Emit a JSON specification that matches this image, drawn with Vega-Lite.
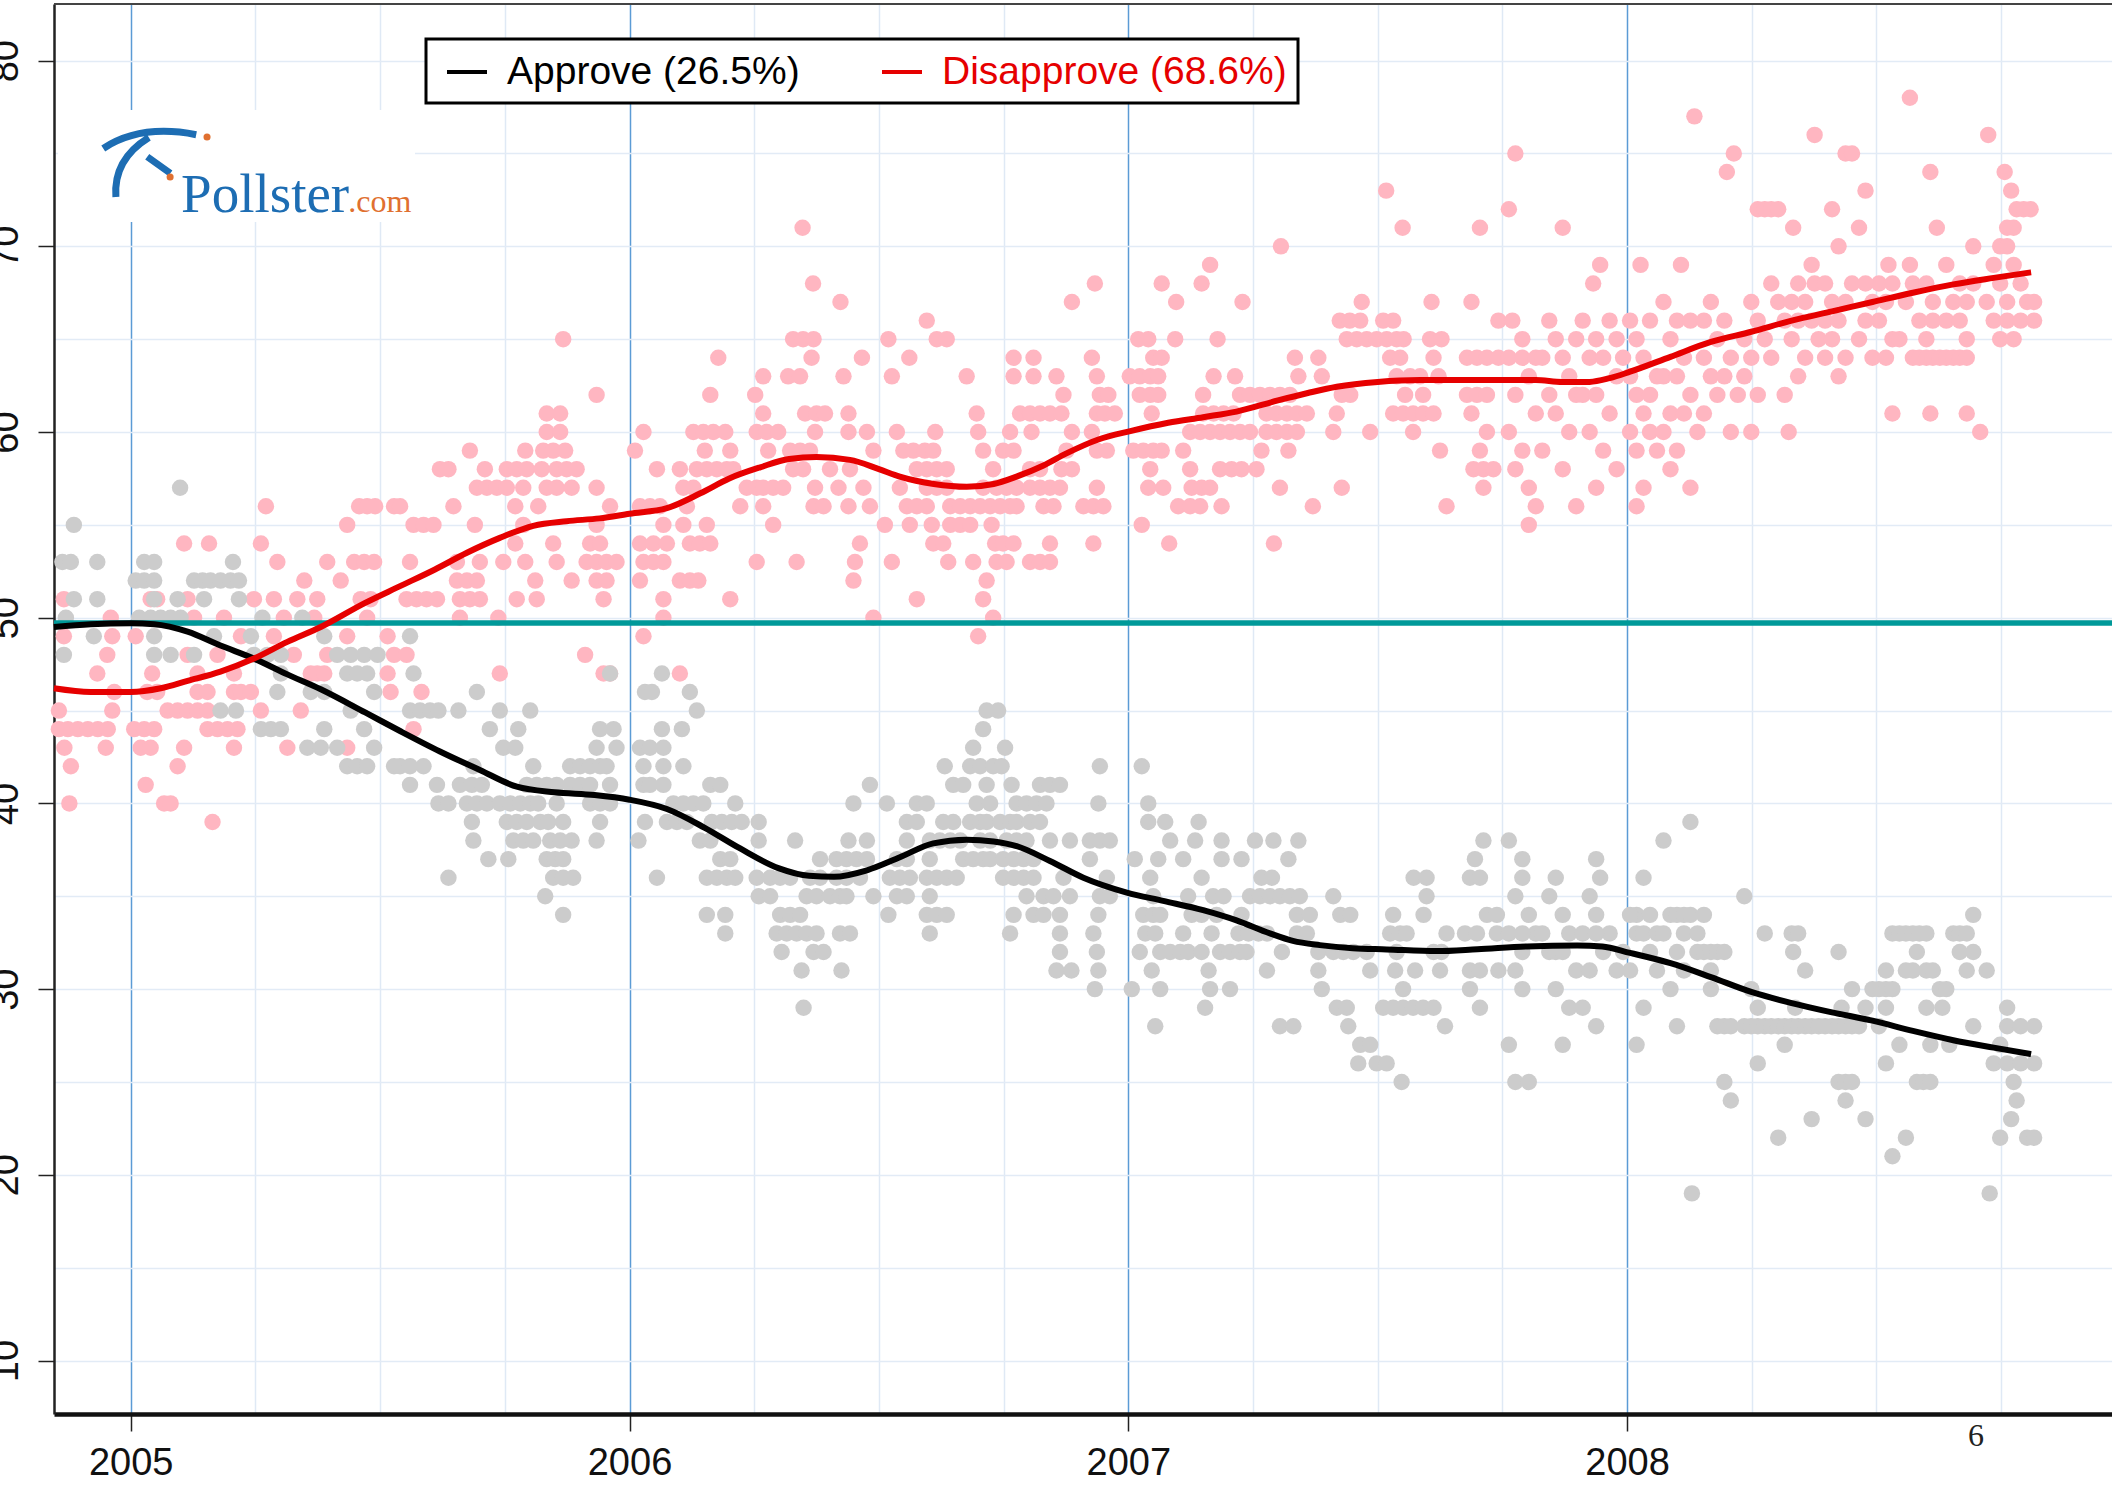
{
"$schema": "https://vega.github.io/schema/vega-lite/v6.json",
"width": 2058,
"height": 1410,
"autosize": {"type": "none"},
"padding": {"left": 54, "top": 4, "right": 0, "bottom": 72},
"background": "white",
"config": {"view": {"stroke": null}, "font": "Liberation Sans"},
"datasets": {
"dis": [
{"t":2005.271,"v":56},{"t":2005.458,"v":56},{"t":2005.474,"v":56},{"t":2005.49,"v":56},{"t":2005.528,"v":56},
{"t":2005.434,"v":55},
{"t":2005.107,"v":54},{"t":2005.157,"v":54},{"t":2005.261,"v":54},
{"t":2005.294,"v":53},{"t":2005.394,"v":53},{"t":2005.448,"v":53},{"t":2005.468,"v":53},{"t":2005.488,"v":53},
{"t":2005.348,"v":52},{"t":2005.421,"v":52},
{"t":2004.866,"v":51},{"t":2005.04,"v":51},{"t":2005.053,"v":51},{"t":2005.114,"v":51},{"t":2005.247,"v":51},{"t":2005.287,"v":51},{"t":2005.334,"v":51},{"t":2005.374,"v":51},{"t":2005.461,"v":51},{"t":2005.481,"v":51},
{"t":2004.96,"v":50},{"t":2005.127,"v":50},{"t":2005.187,"v":50},{"t":2005.307,"v":50},{"t":2005.368,"v":50},{"t":2005.474,"v":50},
{"t":2004.866,"v":49},{"t":2004.963,"v":49},{"t":2005.01,"v":49},{"t":2005.221,"v":49},{"t":2005.287,"v":49},{"t":2005.434,"v":49},{"t":2005.515,"v":49},
{"t":2004.953,"v":48},{"t":2005.114,"v":48},{"t":2005.174,"v":48},{"t":2005.327,"v":48},{"t":2005.394,"v":48},{"t":2005.528,"v":48},
{"t":2004.933,"v":47},{"t":2005.043,"v":47},{"t":2005.134,"v":47},{"t":2005.207,"v":47},{"t":2005.361,"v":47},{"t":2005.374,"v":47},{"t":2005.388,"v":47},{"t":2005.515,"v":47},
{"t":2004.967,"v":46},{"t":2005.033,"v":46},{"t":2005.053,"v":46},{"t":2005.134,"v":46},{"t":2005.154,"v":46},{"t":2005.207,"v":46},{"t":2005.221,"v":46},{"t":2005.241,"v":46},{"t":2005.521,"v":46},
{"t":2004.856,"v":45},{"t":2004.963,"v":45},{"t":2005.074,"v":45},{"t":2005.094,"v":45},{"t":2005.114,"v":45},{"t":2005.134,"v":45},{"t":2005.154,"v":45},{"t":2005.261,"v":45},{"t":2005.341,"v":45},
{"t":2004.856,"v":44},{"t":2004.874,"v":44},{"t":2004.894,"v":44},{"t":2004.914,"v":44},{"t":2004.934,"v":44},{"t":2004.954,"v":44},{"t":2005.007,"v":44},{"t":2005.027,"v":44},{"t":2005.047,"v":44},{"t":2005.154,"v":44},{"t":2005.174,"v":44},{"t":2005.194,"v":44},{"t":2005.214,"v":44},
{"t":2004.867,"v":43},{"t":2004.95,"v":43},{"t":2005.02,"v":43},{"t":2005.04,"v":43},{"t":2005.107,"v":43},{"t":2005.207,"v":43},{"t":2005.314,"v":43},{"t":2005.434,"v":43},
{"t":2004.88,"v":42},{"t":2005.094,"v":42},
{"t":2005.03,"v":41},
{"t":2004.877,"v":40},{"t":2005.067,"v":40},{"t":2005.08,"v":40},
{"t":2005.164,"v":39},
{"t":2005.867,"v":65},
{"t":2006.178,"v":64},
{"t":2005.934,"v":62},{"t":2006.162,"v":62},{"t":2006.252,"v":62},
{"t":2005.834,"v":61},{"t":2005.861,"v":61},
{"t":2005.834,"v":60},{"t":2005.861,"v":60},{"t":2006.028,"v":60},{"t":2006.128,"v":60},{"t":2006.148,"v":60},{"t":2006.168,"v":60},{"t":2006.192,"v":60},
{"t":2005.68,"v":59},{"t":2005.791,"v":59},{"t":2005.827,"v":59},{"t":2005.847,"v":59},{"t":2005.871,"v":59},{"t":2006.011,"v":59},{"t":2006.151,"v":59},{"t":2006.202,"v":59},
{"t":2005.62,"v":58},{"t":2005.637,"v":58},{"t":2005.71,"v":58},{"t":2005.754,"v":58},{"t":2005.774,"v":58},{"t":2005.794,"v":58},{"t":2005.824,"v":58},{"t":2005.854,"v":58},{"t":2005.874,"v":58},{"t":2005.894,"v":58},{"t":2006.055,"v":58},{"t":2006.101,"v":58},{"t":2006.135,"v":58},{"t":2006.155,"v":58},{"t":2006.175,"v":58},{"t":2006.195,"v":58},{"t":2006.208,"v":58},
{"t":2005.694,"v":57},{"t":2005.714,"v":57},{"t":2005.734,"v":57},{"t":2005.754,"v":57},{"t":2005.787,"v":57},{"t":2005.834,"v":57},{"t":2005.854,"v":57},{"t":2005.884,"v":57},{"t":2005.934,"v":57},{"t":2006.108,"v":57},{"t":2006.128,"v":57},{"t":2006.235,"v":57},{"t":2006.255,"v":57},
{"t":2005.54,"v":56},{"t":2005.647,"v":56},{"t":2005.771,"v":56},{"t":2005.817,"v":56},{"t":2005.961,"v":56},{"t":2006.021,"v":56},{"t":2006.041,"v":56},{"t":2006.061,"v":56},{"t":2006.115,"v":56},{"t":2006.222,"v":56},
{"t":2005.567,"v":55},{"t":2005.587,"v":55},{"t":2005.607,"v":55},{"t":2005.69,"v":55},{"t":2005.787,"v":55},{"t":2005.934,"v":55},{"t":2006.068,"v":55},{"t":2006.108,"v":55},{"t":2006.155,"v":55},
{"t":2005.771,"v":54},{"t":2005.847,"v":54},{"t":2005.921,"v":54},{"t":2005.941,"v":54},{"t":2006.021,"v":54},{"t":2006.048,"v":54},{"t":2006.075,"v":54},{"t":2006.121,"v":54},{"t":2006.141,"v":54},{"t":2006.162,"v":54},
{"t":2005.56,"v":53},{"t":2005.654,"v":53},{"t":2005.7,"v":53},{"t":2005.747,"v":53},{"t":2005.791,"v":53},{"t":2005.854,"v":53},{"t":2005.914,"v":53},{"t":2005.934,"v":53},{"t":2005.954,"v":53},{"t":2005.974,"v":53},{"t":2006.028,"v":53},{"t":2006.048,"v":53},{"t":2006.068,"v":53},{"t":2006.255,"v":53},
{"t":2005.654,"v":52},{"t":2005.674,"v":52},{"t":2005.694,"v":52},{"t":2005.811,"v":52},{"t":2005.884,"v":52},{"t":2005.934,"v":52},{"t":2005.954,"v":52},{"t":2006.021,"v":52},{"t":2006.101,"v":52},{"t":2006.121,"v":52},{"t":2006.138,"v":52},
{"t":2005.553,"v":51},{"t":2005.573,"v":51},{"t":2005.593,"v":51},{"t":2005.614,"v":51},{"t":2005.66,"v":51},{"t":2005.68,"v":51},{"t":2005.7,"v":51},{"t":2005.774,"v":51},{"t":2005.814,"v":51},{"t":2005.948,"v":51},{"t":2006.068,"v":51},{"t":2006.202,"v":51},
{"t":2005.66,"v":50},{"t":2005.737,"v":50},{"t":2006.068,"v":50},
{"t":2006.028,"v":49},
{"t":2005.553,"v":48},{"t":2005.911,"v":48},
{"t":2005.74,"v":47},{"t":2005.948,"v":47},{"t":2005.961,"v":47},{"t":2006.101,"v":47},
{"t":2005.583,"v":46},
{"t":2005.567,"v":44},
{"t":2006.347,"v":71},
{"t":2006.368,"v":68},{"t":2006.933,"v":68},
{"t":2006.423,"v":67},{"t":2006.887,"v":67},
{"t":2006.596,"v":66},
{"t":2006.328,"v":65},{"t":2006.348,"v":65},{"t":2006.369,"v":65},{"t":2006.519,"v":65},{"t":2006.616,"v":65},{"t":2006.636,"v":65},
{"t":2006.365,"v":64},{"t":2006.466,"v":64},{"t":2006.561,"v":64},{"t":2006.77,"v":64},{"t":2006.81,"v":64},{"t":2006.927,"v":64},
{"t":2006.268,"v":63},{"t":2006.318,"v":63},{"t":2006.342,"v":63},{"t":2006.429,"v":63},{"t":2006.526,"v":63},{"t":2006.676,"v":63},{"t":2006.77,"v":63},{"t":2006.81,"v":63},{"t":2006.856,"v":63},{"t":2006.937,"v":63},
{"t":2006.87,"v":62},{"t":2006.943,"v":62},{"t":2006.96,"v":62},
{"t":2006.268,"v":61},{"t":2006.352,"v":61},{"t":2006.375,"v":61},{"t":2006.392,"v":61},{"t":2006.439,"v":61},{"t":2006.696,"v":61},{"t":2006.783,"v":61},{"t":2006.803,"v":61},{"t":2006.823,"v":61},{"t":2006.843,"v":61},{"t":2006.866,"v":61},{"t":2006.937,"v":61},{"t":2006.953,"v":61},{"t":2006.973,"v":61},
{"t":2006.255,"v":60},{"t":2006.275,"v":60},{"t":2006.298,"v":60},{"t":2006.372,"v":60},{"t":2006.439,"v":60},{"t":2006.476,"v":60},{"t":2006.536,"v":60},{"t":2006.613,"v":60},{"t":2006.699,"v":60},{"t":2006.763,"v":60},{"t":2006.806,"v":60},{"t":2006.887,"v":60},{"t":2006.927,"v":60},
{"t":2006.278,"v":59},{"t":2006.322,"v":59},{"t":2006.342,"v":59},{"t":2006.362,"v":59},{"t":2006.489,"v":59},{"t":2006.549,"v":59},{"t":2006.569,"v":59},{"t":2006.592,"v":59},{"t":2006.609,"v":59},{"t":2006.709,"v":59},{"t":2006.749,"v":59},{"t":2006.77,"v":59},{"t":2006.876,"v":59},{"t":2006.937,"v":59},{"t":2006.957,"v":59},
{"t":2006.328,"v":58},{"t":2006.348,"v":58},{"t":2006.402,"v":58},{"t":2006.442,"v":58},{"t":2006.576,"v":58},{"t":2006.596,"v":58},{"t":2006.616,"v":58},{"t":2006.636,"v":58},{"t":2006.729,"v":58},{"t":2006.803,"v":58},{"t":2006.823,"v":58},{"t":2006.866,"v":58},{"t":2006.887,"v":58},
{"t":2006.268,"v":57},{"t":2006.288,"v":57},{"t":2006.308,"v":57},{"t":2006.372,"v":57},{"t":2006.419,"v":57},{"t":2006.469,"v":57},{"t":2006.542,"v":57},{"t":2006.596,"v":57},{"t":2006.616,"v":57},{"t":2006.636,"v":57},{"t":2006.709,"v":57},{"t":2006.736,"v":57},{"t":2006.756,"v":57},{"t":2006.776,"v":57},{"t":2006.803,"v":57},{"t":2006.823,"v":57},{"t":2006.843,"v":57},{"t":2006.863,"v":57},{"t":2006.937,"v":57},
{"t":2006.268,"v":56},{"t":2006.369,"v":56},{"t":2006.389,"v":56},{"t":2006.439,"v":56},{"t":2006.482,"v":56},{"t":2006.556,"v":56},{"t":2006.576,"v":56},{"t":2006.596,"v":56},{"t":2006.643,"v":56},{"t":2006.663,"v":56},{"t":2006.683,"v":56},{"t":2006.703,"v":56},{"t":2006.723,"v":56},{"t":2006.743,"v":56},{"t":2006.763,"v":56},{"t":2006.776,"v":56},{"t":2006.83,"v":56},{"t":2006.85,"v":56},{"t":2006.91,"v":56},{"t":2006.93,"v":56},{"t":2006.95,"v":56},
{"t":2006.288,"v":55},{"t":2006.512,"v":55},{"t":2006.562,"v":55},{"t":2006.606,"v":55},{"t":2006.643,"v":55},{"t":2006.663,"v":55},{"t":2006.683,"v":55},{"t":2006.726,"v":55},
{"t":2006.462,"v":54},{"t":2006.609,"v":54},{"t":2006.629,"v":54},{"t":2006.733,"v":54},{"t":2006.749,"v":54},{"t":2006.77,"v":54},{"t":2006.843,"v":54},{"t":2006.93,"v":54},
{"t":2006.335,"v":53},{"t":2006.452,"v":53},{"t":2006.526,"v":53},{"t":2006.639,"v":53},{"t":2006.689,"v":53},{"t":2006.736,"v":53},{"t":2006.756,"v":53},{"t":2006.803,"v":53},{"t":2006.823,"v":53},{"t":2006.843,"v":53},
{"t":2006.449,"v":52},{"t":2006.716,"v":52},
{"t":2006.576,"v":51},{"t":2006.709,"v":51},
{"t":2006.489,"v":50},{"t":2006.729,"v":50},
{"t":2006.699,"v":49},
{"t":2007.517,"v":73},
{"t":2007.55,"v":71},{"t":2007.705,"v":71},
{"t":2007.306,"v":70},
{"t":2007.164,"v":69},
{"t":2007.067,"v":68},{"t":2007.147,"v":68},
{"t":2007.096,"v":67},{"t":2007.229,"v":67},{"t":2007.468,"v":67},{"t":2007.608,"v":67},{"t":2007.688,"v":67},
{"t":2007.424,"v":66},{"t":2007.444,"v":66},{"t":2007.465,"v":66},{"t":2007.511,"v":66},{"t":2007.531,"v":66},{"t":2007.742,"v":66},
{"t":2007.02,"v":65},{"t":2007.04,"v":65},{"t":2007.094,"v":65},{"t":2007.179,"v":65},{"t":2007.438,"v":65},{"t":2007.458,"v":65},{"t":2007.478,"v":65},{"t":2007.498,"v":65},{"t":2007.518,"v":65},{"t":2007.538,"v":65},{"t":2007.552,"v":65},{"t":2007.605,"v":65},{"t":2007.628,"v":65},
{"t":2007.05,"v":64},{"t":2007.067,"v":64},{"t":2007.334,"v":64},{"t":2007.381,"v":64},{"t":2007.525,"v":64},{"t":2007.545,"v":64},{"t":2007.612,"v":64},{"t":2007.679,"v":64},{"t":2007.699,"v":64},{"t":2007.719,"v":64},{"t":2007.742,"v":64},
{"t":2007.003,"v":63},{"t":2007.023,"v":63},{"t":2007.044,"v":63},{"t":2007.06,"v":63},{"t":2007.171,"v":63},{"t":2007.214,"v":63},{"t":2007.341,"v":63},{"t":2007.388,"v":63},{"t":2007.538,"v":63},{"t":2007.565,"v":63},{"t":2007.585,"v":63},{"t":2007.622,"v":63},
{"t":2007.023,"v":62},{"t":2007.044,"v":62},{"t":2007.06,"v":62},{"t":2007.15,"v":62},{"t":2007.224,"v":62},{"t":2007.244,"v":62},{"t":2007.264,"v":62},{"t":2007.284,"v":62},{"t":2007.304,"v":62},{"t":2007.324,"v":62},{"t":2007.428,"v":62},{"t":2007.445,"v":62},{"t":2007.555,"v":62},{"t":2007.591,"v":62},{"t":2007.679,"v":62},{"t":2007.699,"v":62},{"t":2007.719,"v":62},
{"t":2007.047,"v":61},{"t":2007.15,"v":61},{"t":2007.171,"v":61},{"t":2007.191,"v":61},{"t":2007.211,"v":61},{"t":2007.277,"v":61},{"t":2007.297,"v":61},{"t":2007.318,"v":61},{"t":2007.338,"v":61},{"t":2007.358,"v":61},{"t":2007.418,"v":61},{"t":2007.531,"v":61},{"t":2007.551,"v":61},{"t":2007.571,"v":61},{"t":2007.591,"v":61},{"t":2007.612,"v":61},{"t":2007.688,"v":61},
{"t":2007.124,"v":60},{"t":2007.144,"v":60},{"t":2007.164,"v":60},{"t":2007.184,"v":60},{"t":2007.204,"v":60},{"t":2007.224,"v":60},{"t":2007.244,"v":60},{"t":2007.277,"v":60},{"t":2007.297,"v":60},{"t":2007.318,"v":60},{"t":2007.338,"v":60},{"t":2007.411,"v":60},{"t":2007.485,"v":60},{"t":2007.571,"v":60},{"t":2007.719,"v":60},
{"t":2007.01,"v":59},{"t":2007.03,"v":59},{"t":2007.05,"v":59},{"t":2007.067,"v":59},{"t":2007.11,"v":59},{"t":2007.267,"v":59},{"t":2007.321,"v":59},{"t":2007.625,"v":59},{"t":2007.705,"v":59},
{"t":2007.044,"v":58},{"t":2007.124,"v":58},{"t":2007.184,"v":58},{"t":2007.207,"v":58},{"t":2007.227,"v":58},{"t":2007.257,"v":58},{"t":2007.692,"v":58},{"t":2007.712,"v":58},{"t":2007.732,"v":58},
{"t":2007.04,"v":57},{"t":2007.07,"v":57},{"t":2007.127,"v":57},{"t":2007.147,"v":57},{"t":2007.164,"v":57},{"t":2007.304,"v":57},{"t":2007.428,"v":57},{"t":2007.712,"v":57},
{"t":2007.1,"v":56},{"t":2007.124,"v":56},{"t":2007.144,"v":56},{"t":2007.187,"v":56},{"t":2007.37,"v":56},{"t":2007.638,"v":56},
{"t":2007.027,"v":55},
{"t":2007.082,"v":54},{"t":2007.292,"v":54},
{"t":2007.776,"v":75},{"t":2007.763,"v":72},{"t":2007.77,"v":66},{"t":2007.79,"v":65},{"t":2007.763,"v":64},{"t":2007.79,"v":64},{"t":2007.803,"v":63},{"t":2007.776,"v":62},{"t":2007.817,"v":61},{"t":2007.763,"v":60},{"t":2007.79,"v":59},{"t":2007.776,"v":58},{"t":2007.803,"v":57},{"t":2007.817,"v":56},{"t":2007.803,"v":55},{"t":2007.817,"v":64},
{"t":2007.871,"v":71},{"t":2007.844,"v":66},{"t":2007.857,"v":65},{"t":2007.83,"v":64},{"t":2007.871,"v":64},{"t":2007.884,"v":63},{"t":2007.844,"v":62},{"t":2007.898,"v":62},{"t":2007.857,"v":61},{"t":2007.884,"v":60},{"t":2007.83,"v":59},{"t":2007.871,"v":58},{"t":2007.898,"v":56},{"t":2007.898,"v":65},
{"t":2007.946,"v":69},{"t":2007.932,"v":68},{"t":2007.911,"v":66},{"t":2007.965,"v":66},{"t":2007.938,"v":65},{"t":2007.925,"v":64},{"t":2007.952,"v":64},{"t":2007.979,"v":63},{"t":2007.911,"v":62},{"t":2007.938,"v":62},{"t":2007.965,"v":61},{"t":2007.925,"v":60},{"t":2007.952,"v":59},{"t":2007.979,"v":58},{"t":2007.938,"v":57},{"t":2007.979,"v":65},
{"t":2008.027,"v":69},{"t":2008.006,"v":66},{"t":2008.046,"v":66},{"t":2008.019,"v":65},{"t":2007.992,"v":64},{"t":2008.033,"v":64},{"t":2008.006,"v":63},{"t":2008.06,"v":63},{"t":2008.019,"v":62},{"t":2008.046,"v":62},{"t":2008.033,"v":61},{"t":2008.006,"v":60},{"t":2008.046,"v":60},{"t":2008.019,"v":59},{"t":2008.06,"v":59},{"t":2008.033,"v":57},{"t":2008.019,"v":56},
{"t":2008.135,"v":77},{"t":2008.108,"v":69},{"t":2008.073,"v":67},{"t":2008.1,"v":66},{"t":2008.127,"v":66},{"t":2008.087,"v":65},{"t":2008.114,"v":64},{"t":2008.073,"v":63},{"t":2008.1,"v":63},{"t":2008.127,"v":62},{"t":2008.087,"v":61},{"t":2008.114,"v":61},{"t":2008.073,"v":60},{"t":2008.141,"v":60},{"t":2008.1,"v":59},{"t":2008.087,"v":58},{"t":2008.127,"v":57},
{"t":2008.214,"v":75},{"t":2008.2,"v":74},{"t":2008.168,"v":67},{"t":2008.154,"v":66},{"t":2008.195,"v":66},{"t":2008.181,"v":65},{"t":2008.154,"v":64},{"t":2008.208,"v":64},{"t":2008.168,"v":63},{"t":2008.195,"v":63},{"t":2008.181,"v":62},{"t":2008.222,"v":62},{"t":2008.154,"v":61},{"t":2008.208,"v":60},
{"t":2008.262,"v":72},{"t":2008.276,"v":72},{"t":2008.289,"v":72},{"t":2008.303,"v":72},{"t":2008.289,"v":68},{"t":2008.249,"v":67},{"t":2008.303,"v":67},{"t":2008.262,"v":66},{"t":2008.276,"v":65},{"t":2008.235,"v":65},{"t":2008.249,"v":64},{"t":2008.289,"v":64},{"t":2008.235,"v":63},{"t":2008.262,"v":62},{"t":2008.249,"v":60},
{"t":2008.376,"v":76},{"t":2008.333,"v":71},{"t":2008.37,"v":69},{"t":2008.343,"v":68},{"t":2008.376,"v":68},{"t":2008.33,"v":67},{"t":2008.357,"v":67},{"t":2008.316,"v":66},{"t":2008.343,"v":66},{"t":2008.37,"v":66},{"t":2008.33,"v":65},{"t":2008.384,"v":65},{"t":2008.357,"v":64},{"t":2008.343,"v":63},{"t":2008.316,"v":62},{"t":2008.324,"v":60},
{"t":2008.438,"v":75},{"t":2008.451,"v":75},{"t":2008.411,"v":72},{"t":2008.424,"v":70},{"t":2008.397,"v":68},{"t":2008.451,"v":68},{"t":2008.411,"v":67},{"t":2008.438,"v":67},{"t":2008.397,"v":66},{"t":2008.424,"v":66},{"t":2008.411,"v":65},{"t":2008.465,"v":65},{"t":2008.438,"v":64},{"t":2008.397,"v":64},{"t":2008.424,"v":63},
{"t":2008.478,"v":73},{"t":2008.465,"v":71},{"t":2008.524,"v":69},{"t":2008.478,"v":68},{"t":2008.505,"v":68},{"t":2008.532,"v":68},{"t":2008.492,"v":67},{"t":2008.519,"v":67},{"t":2008.478,"v":66},{"t":2008.505,"v":66},{"t":2008.532,"v":65},{"t":2008.492,"v":64},{"t":2008.519,"v":64},{"t":2008.532,"v":61},
{"t":2008.567,"v":78},{"t":2008.608,"v":74},{"t":2008.621,"v":71},{"t":2008.567,"v":69},{"t":2008.573,"v":68},{"t":2008.6,"v":68},{"t":2008.559,"v":67},{"t":2008.613,"v":67},{"t":2008.586,"v":66},{"t":2008.613,"v":66},{"t":2008.546,"v":65},{"t":2008.6,"v":65},{"t":2008.573,"v":64},{"t":2008.586,"v":64},{"t":2008.6,"v":64},{"t":2008.613,"v":64},{"t":2008.608,"v":61},
{"t":2008.694,"v":70},{"t":2008.64,"v":69},{"t":2008.667,"v":68},{"t":2008.694,"v":68},{"t":2008.654,"v":67},{"t":2008.681,"v":67},{"t":2008.64,"v":66},{"t":2008.667,"v":66},{"t":2008.681,"v":65},{"t":2008.627,"v":64},{"t":2008.64,"v":64},{"t":2008.654,"v":64},{"t":2008.667,"v":64},{"t":2008.681,"v":64},{"t":2008.681,"v":61},{"t":2008.708,"v":60},
{"t":2008.724,"v":76},{"t":2008.757,"v":74},{"t":2008.77,"v":73},{"t":2008.781,"v":72},{"t":2008.795,"v":72},{"t":2008.809,"v":72},{"t":2008.762,"v":71},{"t":2008.775,"v":71},{"t":2008.748,"v":70},{"t":2008.762,"v":70},{"t":2008.735,"v":69},{"t":2008.775,"v":69},{"t":2008.748,"v":68},{"t":2008.789,"v":68},{"t":2008.721,"v":67},{"t":2008.762,"v":67},{"t":2008.802,"v":67},{"t":2008.735,"v":66},{"t":2008.762,"v":66},{"t":2008.789,"v":66},{"t":2008.816,"v":66},{"t":2008.748,"v":65},{"t":2008.775,"v":65},{"t":2008.816,"v":67}
],
"app": [
{"t":2005.099,"v":57},
{"t":2004.886,"v":55},
{"t":2004.863,"v":53},{"t":2004.88,"v":53},{"t":2004.933,"v":53},{"t":2005.027,"v":53},{"t":2005.047,"v":53},{"t":2005.205,"v":53},
{"t":2005.01,"v":52},{"t":2005.027,"v":52},{"t":2005.047,"v":52},{"t":2005.127,"v":52},{"t":2005.144,"v":52},{"t":2005.16,"v":52},{"t":2005.18,"v":52},{"t":2005.2,"v":52},{"t":2005.217,"v":52},
{"t":2004.886,"v":51},{"t":2004.933,"v":51},{"t":2005.047,"v":51},{"t":2005.094,"v":51},{"t":2005.147,"v":51},{"t":2005.217,"v":51},
{"t":2004.87,"v":50},{"t":2005.017,"v":50},{"t":2005.04,"v":50},{"t":2005.06,"v":50},{"t":2005.08,"v":50},{"t":2005.1,"v":50},{"t":2005.264,"v":50},{"t":2005.344,"v":50},
{"t":2004.926,"v":49},{"t":2005.047,"v":49},{"t":2005.167,"v":49},{"t":2005.241,"v":49},{"t":2005.388,"v":49},
{"t":2004.866,"v":48},{"t":2005.047,"v":48},{"t":2005.08,"v":48},{"t":2005.127,"v":48},{"t":2005.247,"v":48},{"t":2005.274,"v":48},{"t":2005.301,"v":48},{"t":2005.414,"v":48},{"t":2005.441,"v":48},{"t":2005.468,"v":48},{"t":2005.495,"v":48},
{"t":2005.301,"v":47},{"t":2005.434,"v":47},{"t":2005.454,"v":47},{"t":2005.474,"v":47},
{"t":2005.294,"v":46},{"t":2005.361,"v":46},{"t":2005.388,"v":46},{"t":2005.488,"v":46},
{"t":2005.18,"v":45},{"t":2005.211,"v":45},{"t":2005.441,"v":45},
{"t":2005.261,"v":44},{"t":2005.281,"v":44},{"t":2005.301,"v":44},{"t":2005.388,"v":44},{"t":2005.468,"v":44},
{"t":2005.354,"v":43},{"t":2005.381,"v":43},{"t":2005.414,"v":43},{"t":2005.488,"v":43},
{"t":2005.434,"v":42},{"t":2005.454,"v":42},{"t":2005.474,"v":42},{"t":2005.528,"v":42},
{"t":2005.56,"v":49},
{"t":2005.567,"v":47},{"t":2005.961,"v":47},{"t":2006.065,"v":47},
{"t":2005.694,"v":46},{"t":2006.031,"v":46},{"t":2006.045,"v":46},{"t":2006.121,"v":46},
{"t":2005.56,"v":45},{"t":2005.58,"v":45},{"t":2005.6,"v":45},{"t":2005.617,"v":45},{"t":2005.657,"v":45},{"t":2005.74,"v":45},{"t":2005.801,"v":45},{"t":2006.135,"v":45},
{"t":2005.72,"v":44},{"t":2005.777,"v":44},{"t":2005.941,"v":44},{"t":2005.968,"v":44},{"t":2006.065,"v":44},{"t":2006.105,"v":44},
{"t":2005.747,"v":43},{"t":2005.771,"v":43},{"t":2005.934,"v":43},{"t":2005.974,"v":43},{"t":2006.021,"v":43},{"t":2006.041,"v":43},{"t":2006.068,"v":43},
{"t":2005.54,"v":42},{"t":2005.56,"v":42},{"t":2005.587,"v":42},{"t":2005.687,"v":42},{"t":2005.807,"v":42},{"t":2005.881,"v":42},{"t":2005.901,"v":42},{"t":2005.921,"v":42},{"t":2005.941,"v":42},{"t":2005.954,"v":42},{"t":2006.028,"v":42},{"t":2006.068,"v":42},{"t":2006.108,"v":42},
{"t":2005.56,"v":41},{"t":2005.614,"v":41},{"t":2005.66,"v":41},{"t":2005.684,"v":41},{"t":2005.704,"v":41},{"t":2005.794,"v":41},{"t":2005.814,"v":41},{"t":2005.834,"v":41},{"t":2005.854,"v":41},{"t":2005.881,"v":41},{"t":2005.901,"v":41},{"t":2005.921,"v":41},{"t":2005.961,"v":41},{"t":2006.028,"v":41},{"t":2006.041,"v":41},{"t":2006.068,"v":41},{"t":2006.162,"v":41},{"t":2006.182,"v":41},
{"t":2005.617,"v":40},{"t":2005.637,"v":40},{"t":2005.674,"v":40},{"t":2005.694,"v":40},{"t":2005.714,"v":40},{"t":2005.74,"v":40},{"t":2005.761,"v":40},{"t":2005.781,"v":40},{"t":2005.801,"v":40},{"t":2005.817,"v":40},{"t":2005.854,"v":40},{"t":2005.921,"v":40},{"t":2005.941,"v":40},{"t":2005.961,"v":40},{"t":2006.088,"v":40},{"t":2006.108,"v":40},{"t":2006.128,"v":40},{"t":2006.148,"v":40},{"t":2006.212,"v":40},
{"t":2005.684,"v":39},{"t":2005.754,"v":39},{"t":2005.774,"v":39},{"t":2005.794,"v":39},{"t":2005.821,"v":39},{"t":2005.837,"v":39},{"t":2005.867,"v":39},{"t":2005.941,"v":39},{"t":2006.031,"v":39},{"t":2006.075,"v":39},{"t":2006.095,"v":39},{"t":2006.115,"v":39},{"t":2006.165,"v":39},{"t":2006.185,"v":39},{"t":2006.205,"v":39},{"t":2006.225,"v":39},{"t":2006.259,"v":39},
{"t":2005.687,"v":38},{"t":2005.767,"v":38},{"t":2005.787,"v":38},{"t":2005.807,"v":38},{"t":2005.841,"v":38},{"t":2005.861,"v":38},{"t":2005.884,"v":38},{"t":2005.934,"v":38},{"t":2006.018,"v":38},{"t":2006.141,"v":38},{"t":2006.162,"v":38},{"t":2006.259,"v":38},
{"t":2005.717,"v":37},{"t":2005.757,"v":37},{"t":2005.834,"v":37},{"t":2005.851,"v":37},{"t":2005.867,"v":37},{"t":2006.182,"v":37},{"t":2006.202,"v":37},
{"t":2005.637,"v":36},{"t":2005.847,"v":36},{"t":2005.867,"v":36},{"t":2005.887,"v":36},{"t":2006.055,"v":36},{"t":2006.155,"v":36},{"t":2006.175,"v":36},{"t":2006.195,"v":36},{"t":2006.212,"v":36},{"t":2006.255,"v":36},
{"t":2005.831,"v":35},{"t":2006.259,"v":35},
{"t":2005.867,"v":34},{"t":2006.155,"v":34},{"t":2006.192,"v":34},
{"t":2006.192,"v":33},
{"t":2006.716,"v":45},{"t":2006.739,"v":45},
{"t":2006.709,"v":44},
{"t":2006.689,"v":43},{"t":2006.753,"v":43},
{"t":2006.632,"v":42},{"t":2006.683,"v":42},{"t":2006.703,"v":42},{"t":2006.729,"v":42},{"t":2006.746,"v":42},{"t":2006.943,"v":42},
{"t":2006.482,"v":41},{"t":2006.649,"v":41},{"t":2006.669,"v":41},{"t":2006.716,"v":41},{"t":2006.766,"v":41},{"t":2006.823,"v":41},{"t":2006.843,"v":41},{"t":2006.863,"v":41},
{"t":2006.449,"v":40},{"t":2006.516,"v":40},{"t":2006.576,"v":40},{"t":2006.596,"v":40},{"t":2006.696,"v":40},{"t":2006.723,"v":40},{"t":2006.776,"v":40},{"t":2006.796,"v":40},{"t":2006.816,"v":40},{"t":2006.836,"v":40},{"t":2006.94,"v":40},
{"t":2006.556,"v":39},{"t":2006.576,"v":39},{"t":2006.629,"v":39},{"t":2006.649,"v":39},{"t":2006.683,"v":39},{"t":2006.703,"v":39},{"t":2006.716,"v":39},{"t":2006.743,"v":39},{"t":2006.763,"v":39},{"t":2006.776,"v":39},{"t":2006.803,"v":39},{"t":2006.823,"v":39},
{"t":2006.332,"v":38},{"t":2006.439,"v":38},{"t":2006.476,"v":38},{"t":2006.556,"v":38},{"t":2006.602,"v":38},{"t":2006.622,"v":38},{"t":2006.643,"v":38},{"t":2006.663,"v":38},{"t":2006.703,"v":38},{"t":2006.723,"v":38},{"t":2006.756,"v":38},{"t":2006.776,"v":38},{"t":2006.796,"v":38},{"t":2006.843,"v":38},{"t":2006.883,"v":38},{"t":2006.923,"v":38},{"t":2006.943,"v":38},{"t":2006.963,"v":38},
{"t":2006.382,"v":37},{"t":2006.415,"v":37},{"t":2006.435,"v":37},{"t":2006.455,"v":37},{"t":2006.476,"v":37},{"t":2006.536,"v":37},{"t":2006.556,"v":37},{"t":2006.602,"v":37},{"t":2006.669,"v":37},{"t":2006.689,"v":37},{"t":2006.709,"v":37},{"t":2006.723,"v":37},{"t":2006.749,"v":37},{"t":2006.77,"v":37},{"t":2006.79,"v":37},{"t":2006.81,"v":37},{"t":2006.923,"v":37},
{"t":2006.282,"v":36},{"t":2006.302,"v":36},{"t":2006.322,"v":36},{"t":2006.362,"v":36},{"t":2006.382,"v":36},{"t":2006.415,"v":36},{"t":2006.435,"v":36},{"t":2006.462,"v":36},{"t":2006.522,"v":36},{"t":2006.542,"v":36},{"t":2006.562,"v":36},{"t":2006.596,"v":36},{"t":2006.616,"v":36},{"t":2006.636,"v":36},{"t":2006.656,"v":36},{"t":2006.749,"v":36},{"t":2006.77,"v":36},{"t":2006.79,"v":36},{"t":2006.81,"v":36},{"t":2006.87,"v":36},{"t":2006.957,"v":36},
{"t":2006.282,"v":35},{"t":2006.355,"v":35},{"t":2006.375,"v":35},{"t":2006.402,"v":35},{"t":2006.422,"v":35},{"t":2006.435,"v":35},{"t":2006.489,"v":35},{"t":2006.536,"v":35},{"t":2006.556,"v":35},{"t":2006.602,"v":35},{"t":2006.796,"v":35},{"t":2006.83,"v":35},{"t":2006.85,"v":35},{"t":2006.883,"v":35},{"t":2006.943,"v":35},{"t":2006.963,"v":35},
{"t":2006.302,"v":34},{"t":2006.322,"v":34},{"t":2006.342,"v":34},{"t":2006.519,"v":34},{"t":2006.596,"v":34},{"t":2006.616,"v":34},{"t":2006.636,"v":34},{"t":2006.77,"v":34},{"t":2006.81,"v":34},{"t":2006.83,"v":34},{"t":2006.863,"v":34},{"t":2006.94,"v":34},
{"t":2006.295,"v":33},{"t":2006.315,"v":33},{"t":2006.335,"v":33},{"t":2006.355,"v":33},{"t":2006.375,"v":33},{"t":2006.422,"v":33},{"t":2006.442,"v":33},{"t":2006.602,"v":33},{"t":2006.763,"v":33},{"t":2006.863,"v":33},{"t":2006.93,"v":33},
{"t":2006.305,"v":32},{"t":2006.369,"v":32},{"t":2006.389,"v":32},{"t":2006.863,"v":32},{"t":2006.937,"v":32},
{"t":2006.345,"v":31},{"t":2006.425,"v":31},{"t":2006.856,"v":31},{"t":2006.886,"v":31},{"t":2006.94,"v":31},
{"t":2006.933,"v":30},
{"t":2006.349,"v":29},
{"t":2007.027,"v":42},
{"t":2007.04,"v":40},
{"t":2007.04,"v":39},{"t":2007.074,"v":39},{"t":2007.141,"v":39},
{"t":2007.084,"v":38},{"t":2007.134,"v":38},{"t":2007.187,"v":38},{"t":2007.254,"v":38},{"t":2007.291,"v":38},{"t":2007.341,"v":38},{"t":2007.712,"v":38},
{"t":2007.013,"v":37},{"t":2007.06,"v":37},{"t":2007.11,"v":37},{"t":2007.187,"v":37},{"t":2007.227,"v":37},{"t":2007.321,"v":37},{"t":2007.695,"v":37},
{"t":2007.044,"v":36},{"t":2007.147,"v":36},{"t":2007.267,"v":36},{"t":2007.288,"v":36},{"t":2007.572,"v":36},{"t":2007.598,"v":36},{"t":2007.685,"v":36},{"t":2007.705,"v":36},
{"t":2007.05,"v":35},{"t":2007.12,"v":35},{"t":2007.17,"v":35},{"t":2007.191,"v":35},{"t":2007.244,"v":35},{"t":2007.264,"v":35},{"t":2007.284,"v":35},{"t":2007.304,"v":35},{"t":2007.324,"v":35},{"t":2007.344,"v":35},{"t":2007.411,"v":35},{"t":2007.598,"v":35},
{"t":2007.03,"v":34},{"t":2007.05,"v":34},{"t":2007.064,"v":34},{"t":2007.127,"v":34},{"t":2007.147,"v":34},{"t":2007.177,"v":34},{"t":2007.227,"v":34},{"t":2007.338,"v":34},{"t":2007.364,"v":34},{"t":2007.425,"v":34},{"t":2007.445,"v":34},{"t":2007.531,"v":34},{"t":2007.592,"v":34},{"t":2007.719,"v":34},{"t":2007.739,"v":34},
{"t":2007.034,"v":33},{"t":2007.054,"v":33},{"t":2007.11,"v":33},{"t":2007.167,"v":33},{"t":2007.221,"v":33},{"t":2007.241,"v":33},{"t":2007.261,"v":33},{"t":2007.278,"v":33},{"t":2007.338,"v":33},{"t":2007.358,"v":33},{"t":2007.525,"v":33},{"t":2007.545,"v":33},{"t":2007.558,"v":33},{"t":2007.638,"v":33},{"t":2007.675,"v":33},{"t":2007.699,"v":33},{"t":2007.739,"v":33},
{"t":2007.023,"v":32},{"t":2007.064,"v":32},{"t":2007.084,"v":32},{"t":2007.104,"v":32},{"t":2007.12,"v":32},{"t":2007.147,"v":32},{"t":2007.184,"v":32},{"t":2007.204,"v":32},{"t":2007.224,"v":32},{"t":2007.237,"v":32},{"t":2007.308,"v":32},{"t":2007.381,"v":32},{"t":2007.411,"v":32},{"t":2007.431,"v":32},{"t":2007.451,"v":32},{"t":2007.478,"v":32},{"t":2007.538,"v":32},{"t":2007.612,"v":32},{"t":2007.628,"v":32},
{"t":2007.047,"v":31},{"t":2007.161,"v":31},{"t":2007.278,"v":31},{"t":2007.381,"v":31},{"t":2007.485,"v":31},{"t":2007.535,"v":31},{"t":2007.575,"v":31},{"t":2007.625,"v":31},{"t":2007.685,"v":31},{"t":2007.705,"v":31},{"t":2007.742,"v":31},
{"t":2007.007,"v":30},{"t":2007.064,"v":30},{"t":2007.164,"v":30},{"t":2007.204,"v":30},{"t":2007.388,"v":30},{"t":2007.551,"v":30},{"t":2007.685,"v":30},
{"t":2007.154,"v":29},{"t":2007.418,"v":29},{"t":2007.438,"v":29},{"t":2007.511,"v":29},{"t":2007.531,"v":29},{"t":2007.551,"v":29},{"t":2007.571,"v":29},{"t":2007.591,"v":29},{"t":2007.612,"v":29},{"t":2007.705,"v":29},
{"t":2007.054,"v":28},{"t":2007.304,"v":28},{"t":2007.331,"v":28},{"t":2007.441,"v":28},{"t":2007.635,"v":28},
{"t":2007.465,"v":27},{"t":2007.485,"v":27},
{"t":2007.461,"v":26},{"t":2007.498,"v":26},{"t":2007.518,"v":26},
{"t":2007.548,"v":25},
{"t":2007.763,"v":38},{"t":2007.79,"v":37},{"t":2007.79,"v":36},{"t":2007.776,"v":35},{"t":2007.803,"v":34},{"t":2007.763,"v":33},{"t":2007.817,"v":33},{"t":2007.79,"v":32},{"t":2007.776,"v":31},{"t":2007.79,"v":30},{"t":2007.763,"v":27},{"t":2007.776,"v":25},{"t":2007.803,"v":25},{"t":2007.79,"v":33},
{"t":2007.857,"v":36},{"t":2007.844,"v":35},{"t":2007.871,"v":34},{"t":2007.83,"v":33},{"t":2007.884,"v":33},{"t":2007.844,"v":32},{"t":2007.857,"v":32},{"t":2007.871,"v":32},{"t":2007.898,"v":31},{"t":2007.857,"v":30},{"t":2007.884,"v":29},{"t":2007.871,"v":27},
{"t":2007.938,"v":37},{"t":2007.946,"v":36},{"t":2007.925,"v":35},{"t":2007.938,"v":34},{"t":2007.911,"v":33},{"t":2007.965,"v":33},{"t":2007.952,"v":32},{"t":2007.925,"v":31},{"t":2007.979,"v":31},{"t":2007.911,"v":29},{"t":2007.938,"v":28},{"t":2007.938,"v":33},
{"t":2008.033,"v":36},{"t":2008.019,"v":34},{"t":2008.046,"v":34},{"t":2008.019,"v":33},{"t":2008.033,"v":33},{"t":2008.06,"v":33},{"t":2007.992,"v":32},{"t":2008.046,"v":32},{"t":2008.006,"v":31},{"t":2008.06,"v":31},{"t":2008.033,"v":29},{"t":2008.019,"v":27},{"t":2008.006,"v":34},
{"t":2008.127,"v":39},{"t":2008.073,"v":38},{"t":2008.087,"v":34},{"t":2008.1,"v":34},{"t":2008.114,"v":34},{"t":2008.127,"v":34},{"t":2008.073,"v":33},{"t":2008.114,"v":33},{"t":2008.1,"v":32},{"t":2008.141,"v":32},{"t":2008.114,"v":31},{"t":2008.087,"v":30},{"t":2008.1,"v":28},{"t":2008.13,"v":19},
{"t":2008.154,"v":34},{"t":2008.141,"v":33},{"t":2008.154,"v":32},{"t":2008.168,"v":32},{"t":2008.181,"v":32},{"t":2008.195,"v":32},{"t":2008.168,"v":31},{"t":2008.168,"v":30},{"t":2008.181,"v":28},{"t":2008.195,"v":28},{"t":2008.208,"v":28},{"t":2008.195,"v":25},{"t":2008.208,"v":24},
{"t":2008.235,"v":35},{"t":2008.276,"v":33},{"t":2008.249,"v":30},{"t":2008.262,"v":29},{"t":2008.235,"v":28},{"t":2008.249,"v":28},{"t":2008.262,"v":28},{"t":2008.276,"v":28},{"t":2008.289,"v":28},{"t":2008.303,"v":28},{"t":2008.262,"v":26},{"t":2008.303,"v":22},
{"t":2008.33,"v":33},{"t":2008.343,"v":33},{"t":2008.333,"v":32},{"t":2008.357,"v":31},{"t":2008.337,"v":29},{"t":2008.316,"v":28},{"t":2008.33,"v":28},{"t":2008.343,"v":28},{"t":2008.357,"v":28},{"t":2008.37,"v":28},{"t":2008.316,"v":27},{"t":2008.37,"v":23},
{"t":2008.424,"v":32},{"t":2008.451,"v":30},{"t":2008.43,"v":29},{"t":2008.384,"v":28},{"t":2008.397,"v":28},{"t":2008.411,"v":28},{"t":2008.424,"v":28},{"t":2008.438,"v":28},{"t":2008.451,"v":28},{"t":2008.465,"v":28},{"t":2008.424,"v":25},{"t":2008.438,"v":25},{"t":2008.451,"v":25},{"t":2008.438,"v":24},{"t":2008.478,"v":23},
{"t":2008.519,"v":31},{"t":2008.492,"v":30},{"t":2008.505,"v":30},{"t":2008.519,"v":30},{"t":2008.532,"v":30},{"t":2008.478,"v":29},{"t":2008.505,"v":28},{"t":2008.546,"v":27},{"t":2008.519,"v":26},{"t":2008.532,"v":21},{"t":2008.559,"v":22},{"t":2008.519,"v":29},
{"t":2008.532,"v":33},{"t":2008.546,"v":33},{"t":2008.559,"v":33},{"t":2008.573,"v":33},{"t":2008.586,"v":33},{"t":2008.6,"v":33},{"t":2008.581,"v":32},{"t":2008.559,"v":31},{"t":2008.573,"v":31},{"t":2008.6,"v":31},{"t":2008.613,"v":31},{"t":2008.627,"v":30},{"t":2008.6,"v":29},{"t":2008.608,"v":27},{"t":2008.581,"v":25},{"t":2008.594,"v":25},{"t":2008.608,"v":25},
{"t":2008.694,"v":34},{"t":2008.654,"v":33},{"t":2008.667,"v":33},{"t":2008.681,"v":33},{"t":2008.667,"v":32},{"t":2008.64,"v":30},{"t":2008.632,"v":29},{"t":2008.694,"v":28},{"t":2008.646,"v":27},{"t":2008.681,"v":31},{"t":2008.694,"v":32},
{"t":2008.762,"v":29},{"t":2008.762,"v":28},{"t":2008.789,"v":28},{"t":2008.816,"v":28},{"t":2008.748,"v":27},{"t":2008.735,"v":26},{"t":2008.762,"v":26},{"t":2008.789,"v":26},{"t":2008.816,"v":26},{"t":2008.775,"v":25},{"t":2008.781,"v":24},{"t":2008.77,"v":23},{"t":2008.748,"v":22},{"t":2008.802,"v":22},{"t":2008.816,"v":22},{"t":2008.727,"v":19},{"t":2008.721,"v":31}
],
"curves": [
{"s":"Approve (26.5%)","t":2004.846,"v":49.5},{"s":"Approve (26.5%)","t":2004.92,"v":49.65},{"s":"Approve (26.5%)","t":2005.0,"v":49.7},{"s":"Approve (26.5%)","t":2005.047,"v":49.65},{"s":"Approve (26.5%)","t":2005.114,"v":49.25},{"s":"Approve (26.5%)","t":2005.18,"v":48.5},{"s":"Approve (26.5%)","t":2005.247,"v":47.8},{"s":"Approve (26.5%)","t":2005.314,"v":46.95},{"s":"Approve (26.5%)","t":2005.381,"v":46.15},{"s":"Approve (26.5%)","t":2005.47,"v":44.9},{"s":"Approve (26.5%)","t":2005.54,"v":43.9},{"s":"Approve (26.5%)","t":2005.62,"v":42.8},{"s":"Approve (26.5%)","t":2005.7,"v":41.8},{"s":"Approve (26.5%)","t":2005.774,"v":40.9},{"s":"Approve (26.5%)","t":2005.85,"v":40.6},{"s":"Approve (26.5%)","t":2005.93,"v":40.45},{"s":"Approve (26.5%)","t":2006.0,"v":40.2},{"s":"Approve (26.5%)","t":2006.075,"v":39.7},{"s":"Approve (26.5%)","t":2006.15,"v":38.7},{"s":"Approve (26.5%)","t":2006.22,"v":37.6},{"s":"Approve (26.5%)","t":2006.3,"v":36.5},{"s":"Approve (26.5%)","t":2006.36,"v":36.1},{"s":"Approve (26.5%)","t":2006.41,"v":36.05},{"s":"Approve (26.5%)","t":2006.476,"v":36.4},{"s":"Approve (26.5%)","t":2006.542,"v":37.1},{"s":"Approve (26.5%)","t":2006.609,"v":37.85},{"s":"Approve (26.5%)","t":2006.676,"v":38.05},{"s":"Approve (26.5%)","t":2006.73,"v":37.95},{"s":"Approve (26.5%)","t":2006.776,"v":37.7},{"s":"Approve (26.5%)","t":2006.843,"v":36.9},{"s":"Approve (26.5%)","t":2006.91,"v":36.0},{"s":"Approve (26.5%)","t":2006.997,"v":35.2},{"s":"Approve (26.5%)","t":2007.07,"v":34.75},{"s":"Approve (26.5%)","t":2007.15,"v":34.25},{"s":"Approve (26.5%)","t":2007.217,"v":33.7},{"s":"Approve (26.5%)","t":2007.284,"v":33.0},{"s":"Approve (26.5%)","t":2007.33,"v":32.6},{"s":"Approve (26.5%)","t":2007.384,"v":32.37},{"s":"Approve (26.5%)","t":2007.45,"v":32.2},{"s":"Approve (26.5%)","t":2007.518,"v":32.14},{"s":"Approve (26.5%)","t":2007.618,"v":32.05},{"s":"Approve (26.5%)","t":2007.7,"v":32.15},{"s":"Approve (26.5%)","t":2007.8,"v":32.3},{"s":"Approve (26.5%)","t":2007.9,"v":32.35},{"s":"Approve (26.5%)","t":2007.95,"v":32.3},{"s":"Approve (26.5%)","t":2008.006,"v":31.95},{"s":"Approve (26.5%)","t":2008.087,"v":31.4},{"s":"Approve (26.5%)","t":2008.168,"v":30.65},{"s":"Approve (26.5%)","t":2008.249,"v":29.85},{"s":"Approve (26.5%)","t":2008.33,"v":29.25},{"s":"Approve (26.5%)","t":2008.411,"v":28.75},{"s":"Approve (26.5%)","t":2008.492,"v":28.3},{"s":"Approve (26.5%)","t":2008.573,"v":27.75},{"s":"Approve (26.5%)","t":2008.654,"v":27.25},{"s":"Approve (26.5%)","t":2008.735,"v":26.85},{"s":"Approve (26.5%)","t":2008.81,"v":26.5},
{"s":"Disapprove (68.6%)","t":2004.846,"v":46.2},{"s":"Disapprove (68.6%)","t":2004.92,"v":46.0},{"s":"Disapprove (68.6%)","t":2005.0,"v":46.0},{"s":"Disapprove (68.6%)","t":2005.06,"v":46.2},{"s":"Disapprove (68.6%)","t":2005.114,"v":46.6},{"s":"Disapprove (68.6%)","t":2005.18,"v":47.1},{"s":"Disapprove (68.6%)","t":2005.247,"v":47.8},{"s":"Disapprove (68.6%)","t":2005.314,"v":48.7},{"s":"Disapprove (68.6%)","t":2005.381,"v":49.5},{"s":"Disapprove (68.6%)","t":2005.47,"v":50.8},{"s":"Disapprove (68.6%)","t":2005.54,"v":51.7},{"s":"Disapprove (68.6%)","t":2005.61,"v":52.6},{"s":"Disapprove (68.6%)","t":2005.674,"v":53.5},{"s":"Disapprove (68.6%)","t":2005.74,"v":54.3},{"s":"Disapprove (68.6%)","t":2005.807,"v":54.95},{"s":"Disapprove (68.6%)","t":2005.874,"v":55.2},{"s":"Disapprove (68.6%)","t":2005.94,"v":55.35},{"s":"Disapprove (68.6%)","t":2006.0,"v":55.6},{"s":"Disapprove (68.6%)","t":2006.075,"v":55.9},{"s":"Disapprove (68.6%)","t":2006.142,"v":56.7},{"s":"Disapprove (68.6%)","t":2006.2,"v":57.5},{"s":"Disapprove (68.6%)","t":2006.262,"v":58.1},{"s":"Disapprove (68.6%)","t":2006.32,"v":58.55},{"s":"Disapprove (68.6%)","t":2006.375,"v":58.65},{"s":"Disapprove (68.6%)","t":2006.442,"v":58.5},{"s":"Disapprove (68.6%)","t":2006.5,"v":58.0},{"s":"Disapprove (68.6%)","t":2006.542,"v":57.6},{"s":"Disapprove (68.6%)","t":2006.61,"v":57.2},{"s":"Disapprove (68.6%)","t":2006.676,"v":57.05},{"s":"Disapprove (68.6%)","t":2006.73,"v":57.2},{"s":"Disapprove (68.6%)","t":2006.776,"v":57.6},{"s":"Disapprove (68.6%)","t":2006.83,"v":58.2},{"s":"Disapprove (68.6%)","t":2006.876,"v":58.85},{"s":"Disapprove (68.6%)","t":2006.94,"v":59.6},{"s":"Disapprove (68.6%)","t":2007.004,"v":60.05},{"s":"Disapprove (68.6%)","t":2007.08,"v":60.5},{"s":"Disapprove (68.6%)","t":2007.15,"v":60.8},{"s":"Disapprove (68.6%)","t":2007.217,"v":61.1},{"s":"Disapprove (68.6%)","t":2007.3,"v":61.7},{"s":"Disapprove (68.6%)","t":2007.36,"v":62.1},{"s":"Disapprove (68.6%)","t":2007.418,"v":62.44},{"s":"Disapprove (68.6%)","t":2007.5,"v":62.7},{"s":"Disapprove (68.6%)","t":2007.585,"v":62.8},{"s":"Disapprove (68.6%)","t":2007.665,"v":62.8},{"s":"Disapprove (68.6%)","t":2007.745,"v":62.8},{"s":"Disapprove (68.6%)","t":2007.817,"v":62.8},{"s":"Disapprove (68.6%)","t":2007.87,"v":62.7},{"s":"Disapprove (68.6%)","t":2007.925,"v":62.7},{"s":"Disapprove (68.6%)","t":2007.965,"v":62.9},{"s":"Disapprove (68.6%)","t":2008.006,"v":63.25},{"s":"Disapprove (68.6%)","t":2008.087,"v":64.05},{"s":"Disapprove (68.6%)","t":2008.168,"v":64.85},{"s":"Disapprove (68.6%)","t":2008.249,"v":65.4},{"s":"Disapprove (68.6%)","t":2008.33,"v":66.0},{"s":"Disapprove (68.6%)","t":2008.411,"v":66.5},{"s":"Disapprove (68.6%)","t":2008.492,"v":67.0},{"s":"Disapprove (68.6%)","t":2008.573,"v":67.5},{"s":"Disapprove (68.6%)","t":2008.654,"v":67.95},{"s":"Disapprove (68.6%)","t":2008.735,"v":68.3},{"s":"Disapprove (68.6%)","t":2008.81,"v":68.6}
]
},
"layer": [
{
"data": {"name": "dis"},
"mark": {"type": "circle", "size": 270, "color": "#FFB6C1", "opacity": 1},
"encoding": {
"x": {"field": "t", "type": "quantitative", "title": null,
"scale": {"domain": [2004.8462, 2008.9722], "nice": false, "zero": false},
"axis": {"orient": "bottom", "title": null,
"values": [2005, 2005.25, 2005.5, 2005.75, 2006, 2006.25, 2006.5, 2006.75, 2007, 2007.25, 2007.5, 2007.75, 2008, 2008.25, 2008.5, 2008.75],
"labelExpr": "datum.value % 1 === 0 ? format(datum.value, 'd') : ''",
"labelFont": "Liberation Sans", "labelFontSize": 38, "labelColor": "#111111", "labelPadding": 13,
"labelOverlap": false, "labelFlush": false,
"tickSize": 17, "tickWidth": 1.5, "tickColor": "#222222",
"tickOpacity": {"condition": {"test": "datum.value % 1 !== 0", "value": 0}, "value": 1},
"grid": true,
"gridColor": {"condition": {"test": "datum.value % 1 === 0", "value": "#5b9bd5"}, "value": "#dfe9f5"},
"gridWidth": 1.5,
"domainColor": "#111111", "domainWidth": 4.5}},
"y": {"field": "v", "type": "quantitative", "title": null,
"scale": {"domain": [7.12, 83.05], "nice": false, "zero": false},
"axis": {"orient": "left", "title": null,
"values": [10, 15, 20, 25, 30, 35, 40, 45, 50, 55, 60, 65, 70, 75, 80],
"labelExpr": "datum.value % 10 === 0 ? format(datum.value, 'd') : ''",
"labelAngle": 270, "labelAlign": "center", "labelBaseline": "alphabetic",
"labelFont": "Liberation Sans", "labelFontSize": 38, "labelColor": "#111111", "labelPadding": 21,
"labelOverlap": false, "labelFlush": false,
"tickSize": 16, "tickWidth": 1.5, "tickColor": "#222222",
"tickOpacity": {"condition": {"test": "datum.value % 10 !== 0", "value": 0}, "value": 1},
"grid": true, "gridColor": "#e2ebf6", "gridWidth": 1.5,
"domainColor": "#222222", "domainWidth": 2.5}}
}
},
{
"data": {"name": "app"},
"mark": {"type": "circle", "size": 270, "color": "#CCCCCC", "opacity": 1},
"encoding": {
"x": {"field": "t", "type": "quantitative", "title": null},
"y": {"field": "v", "type": "quantitative", "title": null}
}
},
{
"data": {"values": [{}]},
"mark": {"type": "rect", "color": "#ffffff"},
"encoding": {
"x": {"datum": 2004.854}, "x2": {"datum": 2005.57},
"y": {"datum": 77.34}, "y2": {"datum": 71.31}
}
},
{
"data": {"values": [{}]},
"mark": {"type": "rule", "color": "#009999", "strokeWidth": 5.5},
"encoding": {"y": {"datum": 49.72}}
},
{
"data": {"name": "curves"},
"mark": {"type": "line", "strokeWidth": 6, "interpolate": "monotone"},
"encoding": {
"x": {"field": "t", "type": "quantitative", "title": null},
"y": {"field": "v", "type": "quantitative", "title": null},
"color": {"field": "s", "type": "nominal",
"scale": {"domain": ["Approve (26.5%)", "Disapprove (68.6%)"], "range": ["#000000", "#e60000"]},
"legend": {"orient": "none", "legendX": 372, "legendY": 35, "direction": "horizontal", "title": null,
"fillColor": "#ffffff", "strokeColor": "#000000", "padding": 11,
"symbolType": "stroke", "symbolStrokeWidth": 4, "symbolSize": 1600, "symbolOffset": 8,
"labelFont": "Liberation Sans", "labelFontSize": 39, "labelOffset": 18, "labelLimit": 1000,
"columnPadding": 72,
"encode": {"legend": {"update": {"strokeWidth": {"value": 3}}},
"labels": {"update": {"fill": {"scale": "color", "field": "value"}}}}}}
}
},
{
"data": {"values": [{}]},
"mark": {"type": "rule", "color": "#444444", "strokeWidth": 2},
"encoding": {"y": {"datum": 83.05}}
},
{
"data": {"values": [{}]},
"mark": {"type": "text", "text": "Pollster", "font": "Liberation Serif", "fontSize": 55, "color": "#1d6db3", "align": "left", "baseline": "alphabetic"},
"encoding": {"x": {"datum": 2005.101}, "y": {"datum": 71.85}}
},
{
"data": {"values": [{}]},
"mark": {"type": "text", "text": ".com", "font": "Liberation Serif", "fontSize": 32, "color": "#e07030", "align": "left", "baseline": "alphabetic"},
"encoding": {"x": {"datum": 2005.436}, "y": {"datum": 71.85}}
},
{
"data": {"values": [{}]},
"mark": {"type": "point", "shape": "M -0.98 -0.3 Q -0.3 -0.75 0.71 -0.55 M -0.15 -0.5 Q -0.8 -0.1 -0.75 0.58 M -0.18 -0.15 L 0.24 0.15", "size": 12100, "filled": false, "stroke": "#1d6db3", "strokeWidth": 7, "opacity": 1},
"encoding": {"x": {"datum": 2005.053}, "y": {"datum": 74.38}}
},
{
"data": {"values": [{"t": 2005.153, "v": 75.89}, {"t": 2005.079, "v": 73.73}]},
"mark": {"type": "circle", "size": 50, "color": "#e07030", "opacity": 1},
"encoding": {"x": {"field": "t", "type": "quantitative", "title": null}, "y": {"field": "v", "type": "quantitative", "title": null}}
},
{
"data": {"values": [{}]},
"mark": {"type": "text", "text": "6", "font": "Liberation Serif", "fontSize": 32, "color": "#222222", "align": "center", "baseline": "middle"},
"encoding": {"x": {"datum": 2008.6995}, "y": {"datum": 5.93}}
}
]
}
